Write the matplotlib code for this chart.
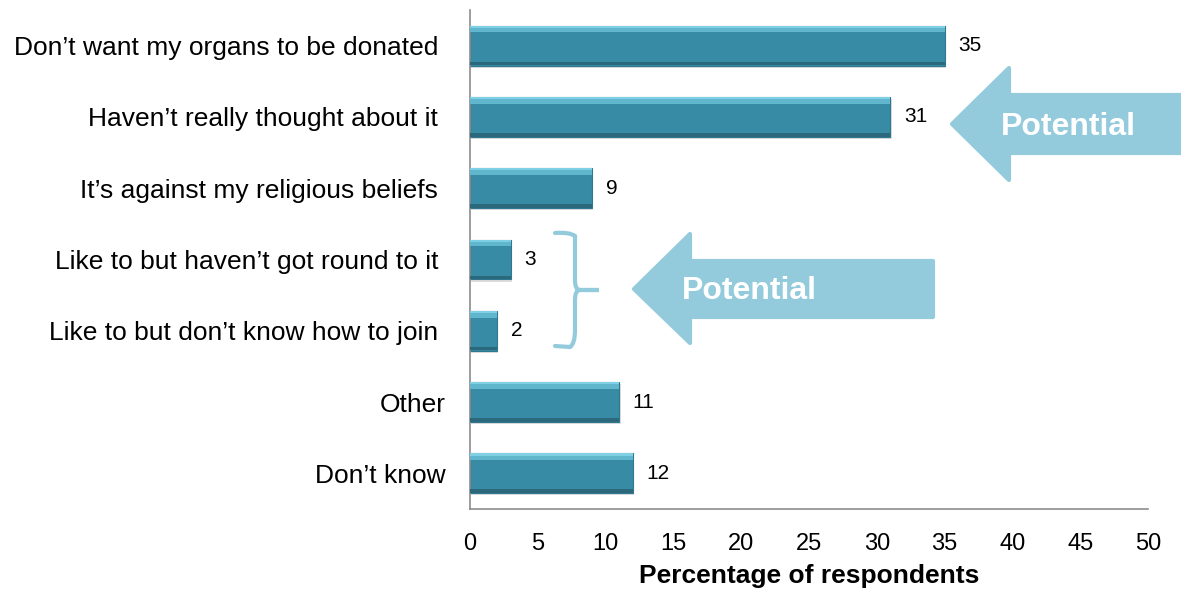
import matplotlib
matplotlib.use("Agg")
import matplotlib.pyplot as plt
from matplotlib.patches import Polygon
from matplotlib.path import Path
from matplotlib.patches import PathPatch
from matplotlib.transforms import ScaledTranslation

categories = ["Don\u2019t want my organs to be donated",
              "Haven\u2019t really thought about it",
              "It\u2019s against my religious beliefs",
              "Like to but haven\u2019t got round to it",
              "Like to but don\u2019t know how to join",
              "Other",
              "Don\u2019t know"]
values = [35, 31, 9, 3, 2, 11, 12]
xticks = [0, 5, 10, 15, 20, 25, 30, 35, 40, 45, 50]
xlabel = "Percentage of respondents"
arrow_text = "Potential"

plt.rcParams['font.family'] = ['Liberation Sans', 'DejaVu Sans']

W, H = 1181, 594
fig = plt.figure(figsize=(W / 100, H / 100), dpi=100)
ax = fig.add_axes([470 / W, 1 - 509 / H, (1148 - 470) / W, (509 - 10) / H])

y = list(range(len(categories)))
bh = 0.56
# soft shadow
ax.barh([v + 0.03 for v in y], values, height=bh, left=0.1, color="#bfbfbf", alpha=0.5,
        linewidth=0, zorder=1)
ax.barh(y, values, height=bh, color="#388ba4", edgecolor="#2f7890", linewidth=0.8, zorder=2)
# bevel highlights
ax.barh([v - bh / 2 + 0.05 for v in y], values, height=0.09, color="#5fb6cd", linewidth=0, zorder=3)
ax.barh([v - bh / 2 + 0.015 for v in y], values, height=0.03, color="#7fd0e4", linewidth=0, zorder=3)
ax.barh([v + bh / 2 - 0.03 for v in y], values, height=0.05, color="#2c687c", linewidth=0, zorder=3)

for yi, v in zip(y, values):
    ax.text(v + 1.0, yi, str(v), va="center", ha="left", fontsize=15, color="black")

ax.set_xlim(0, 50)
ax.set_ylim(len(categories) - 0.5, -0.5)
ax.set_yticks(y)
ax.set_yticklabels(categories, fontsize=19)
ax.set_xticks(xticks)
ax.set_xticklabels([str(t) for t in xticks], fontsize=17)
ax.tick_params(axis="both", length=0)
ax.tick_params(axis="y", pad=23)
ax.tick_params(axis="x", pad=17)
ax.set_xlabel(xlabel, fontsize=19, fontweight="bold", labelpad=7)
for lab in ax.get_yticklabels()[5:]:
    lab.set_transform(lab.get_transform() + ScaledTranslation(0.08, 0, fig.dpi_scale_trans))
for s in ["top", "right"]:
    ax.spines[s].set_visible(False)
for s in ["left", "bottom"]:
    ax.spines[s].set_color("#8c8c8c")
    ax.spines[s].set_linewidth(1.2)

def pix(xp, yp):
    return (xp / W, 1 - yp / H)

def arrow(tip_x, tip_y, head_x, head_top, head_bot, body_top, body_bot, right):
    pts = [(tip_x, tip_y), (head_x, head_top), (head_x, body_top), (right, body_top),
           (right, body_bot), (head_x, body_bot), (head_x, head_bot)]
    poly = Polygon([pix(*p) for p in pts], closed=True, transform=fig.transFigure,
                   facecolor="#93cbdd", edgecolor="#93cbdd", linewidth=3, joinstyle="round")
    fig.add_artist(poly)

arrow(952, 124, 1009, 68, 180, 95, 153, 1185)
fig.text(*pix(1068, 127), arrow_text, color="white", fontsize=23, fontweight="bold",
         ha="center", va="center")
arrow(634, 289, 690, 234, 343, 261, 317, 933)
fig.text(*pix(749, 291), arrow_text, color="white", fontsize=23, fontweight="bold",
         ha="center", va="center")

# brace
verts = [pix(555, 233), pix(570, 232), pix(575, 236), pix(575, 250),
         pix(575, 280), pix(575, 290), pix(580, 290), pix(599, 290),
         pix(580, 290), pix(575, 290), pix(575, 300),
         pix(575, 330), pix(575, 344), pix(570, 347), pix(555, 346)]
codes = [Path.MOVETO, Path.CURVE3, Path.CURVE3, Path.LINETO,
         Path.LINETO, Path.CURVE3, Path.CURVE3, Path.LINETO,
         Path.LINETO, Path.CURVE3, Path.CURVE3,
         Path.LINETO, Path.CURVE3, Path.CURVE3, Path.LINETO]
fig.add_artist(PathPatch(Path(verts, codes), transform=fig.transFigure, fill=False,
                         edgecolor="#93cbdd", linewidth=3, capstyle="round"))

fig.savefig("out.png", dpi=100)
